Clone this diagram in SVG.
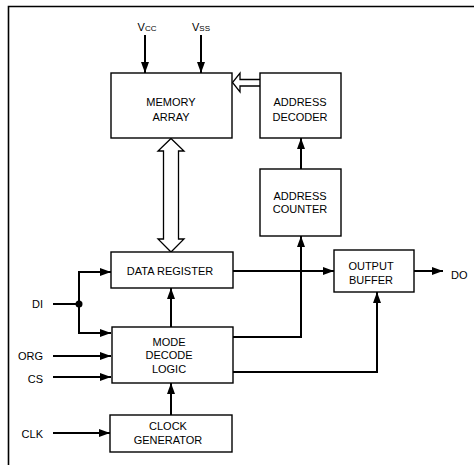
<svg xmlns="http://www.w3.org/2000/svg" width="474" height="465" viewBox="0 0 474 465">
<defs>
<marker id="ah" markerUnits="userSpaceOnUse" markerWidth="12" markerHeight="10" refX="11" refY="4" orient="auto">
<path d="M0,0 L11,4 L0,8 Z" fill="#000"/>
</marker>
<style>
.box{fill:#fff;stroke:#000;stroke-width:1.4}
.ln{fill:none;stroke:#000;stroke-width:2}
.hol{fill:#fff;stroke:#000;stroke-width:1.3}
text{font-family:"Liberation Sans",Arial,sans-serif;font-size:11px;fill:#000}
.c{text-anchor:middle}
.r{text-anchor:end}
</style>
</defs>
<rect width="474" height="465" fill="#fff"/>
<path d="M8.5,465 V6.5 H474" fill="none" stroke="#000" stroke-width="1.6"/>

<g id="connectors">
<line class="ln" x1="145" y1="35" x2="145" y2="73" marker-end="url(#ah)"/>
<line class="ln" x1="201" y1="35" x2="201" y2="73" marker-end="url(#ah)"/>
<path class="hol" d="M260,79.5 H240 V73 L232.5,82.5 L240,92 V86 H260"/>
<path class="hol" d="M171,138.5 L184,151 H178.5 V239 H184 L171,252 L158,239 H163.5 V151 H158 Z"/>
<line class="ln" x1="301" y1="169" x2="301" y2="138" marker-end="url(#ah)"/>
<line class="ln" x1="233" y1="271" x2="334" y2="271" marker-end="url(#ah)"/>
<line class="ln" x1="414" y1="271" x2="443" y2="271" marker-end="url(#ah)"/>
<line class="ln" x1="53" y1="304" x2="79" y2="304"/>
<circle cx="79" cy="304" r="3.5" fill="#000"/>
<path class="ln" d="M79,304 V272 H111" marker-end="url(#ah)"/>
<path class="ln" d="M79,304 V333 H111" marker-end="url(#ah)"/>
<line class="ln" x1="53" y1="356" x2="111" y2="356" marker-end="url(#ah)"/>
<line class="ln" x1="53" y1="377" x2="111" y2="377" marker-end="url(#ah)"/>
<line class="ln" x1="53" y1="433" x2="110" y2="433" marker-end="url(#ah)"/>
<line class="ln" x1="171" y1="327" x2="171" y2="288" marker-end="url(#ah)"/>
<line class="ln" x1="171" y1="415" x2="171" y2="383" marker-end="url(#ah)"/>
<path class="ln" d="M233,337 H301 V236" marker-end="url(#ah)"/>
<path class="ln" d="M233,372 H377 V292" marker-end="url(#ah)"/>
</g>

<g id="labels">
<text x="147" y="31" class="c" style="font-variant:small-caps">Vcc</text>
<text x="201" y="31" class="c" style="font-variant:small-caps">Vss</text>
<text x="43" y="308" class="r">DI</text>
<text x="43" y="360" class="r">ORG</text>
<text x="43" y="383" class="r">CS</text>
<text x="43" y="438" class="r">CLK</text>
<text x="451" y="279">DO</text>
</g>

<g id="memory-array">
<rect class="box" x="111" y="73" width="121" height="65"/>
<text x="171" y="106" class="c">MEMORY</text>
<text x="171" y="121" class="c">ARRAY</text>
</g>
<g id="address-decoder">
<rect class="box" x="260" y="73" width="81" height="65"/>
<text x="300" y="106" class="c">ADDRESS</text>
<text x="300" y="121" class="c">DECODER</text>
</g>
<g id="address-counter">
<rect class="box" x="260" y="169" width="81" height="67"/>
<text x="300" y="200" class="c">ADDRESS</text>
<text x="300" y="213" class="c">COUNTER</text>
</g>
<g id="data-register">
<rect class="box" x="111" y="252" width="122" height="36"/>
<text x="170" y="275" class="c">DATA REGISTER</text>
</g>
<g id="output-buffer">
<rect class="box" x="334" y="250" width="80" height="42"/>
<text x="371" y="270" class="c">OUTPUT</text>
<text x="371" y="284" class="c">BUFFER</text>
</g>
<g id="mode-decode-logic">
<rect class="box" x="112" y="327" width="121" height="56"/>
<text x="169" y="346" class="c">MODE</text>
<text x="169" y="359" class="c">DECODE</text>
<text x="169" y="373" class="c">LOGIC</text>
</g>
<g id="clock-generator">
<rect class="box" x="110" y="415" width="122" height="37"/>
<text x="168" y="430" class="c">CLOCK</text>
<text x="168" y="444" class="c">GENERATOR</text>
</g>
</svg>
